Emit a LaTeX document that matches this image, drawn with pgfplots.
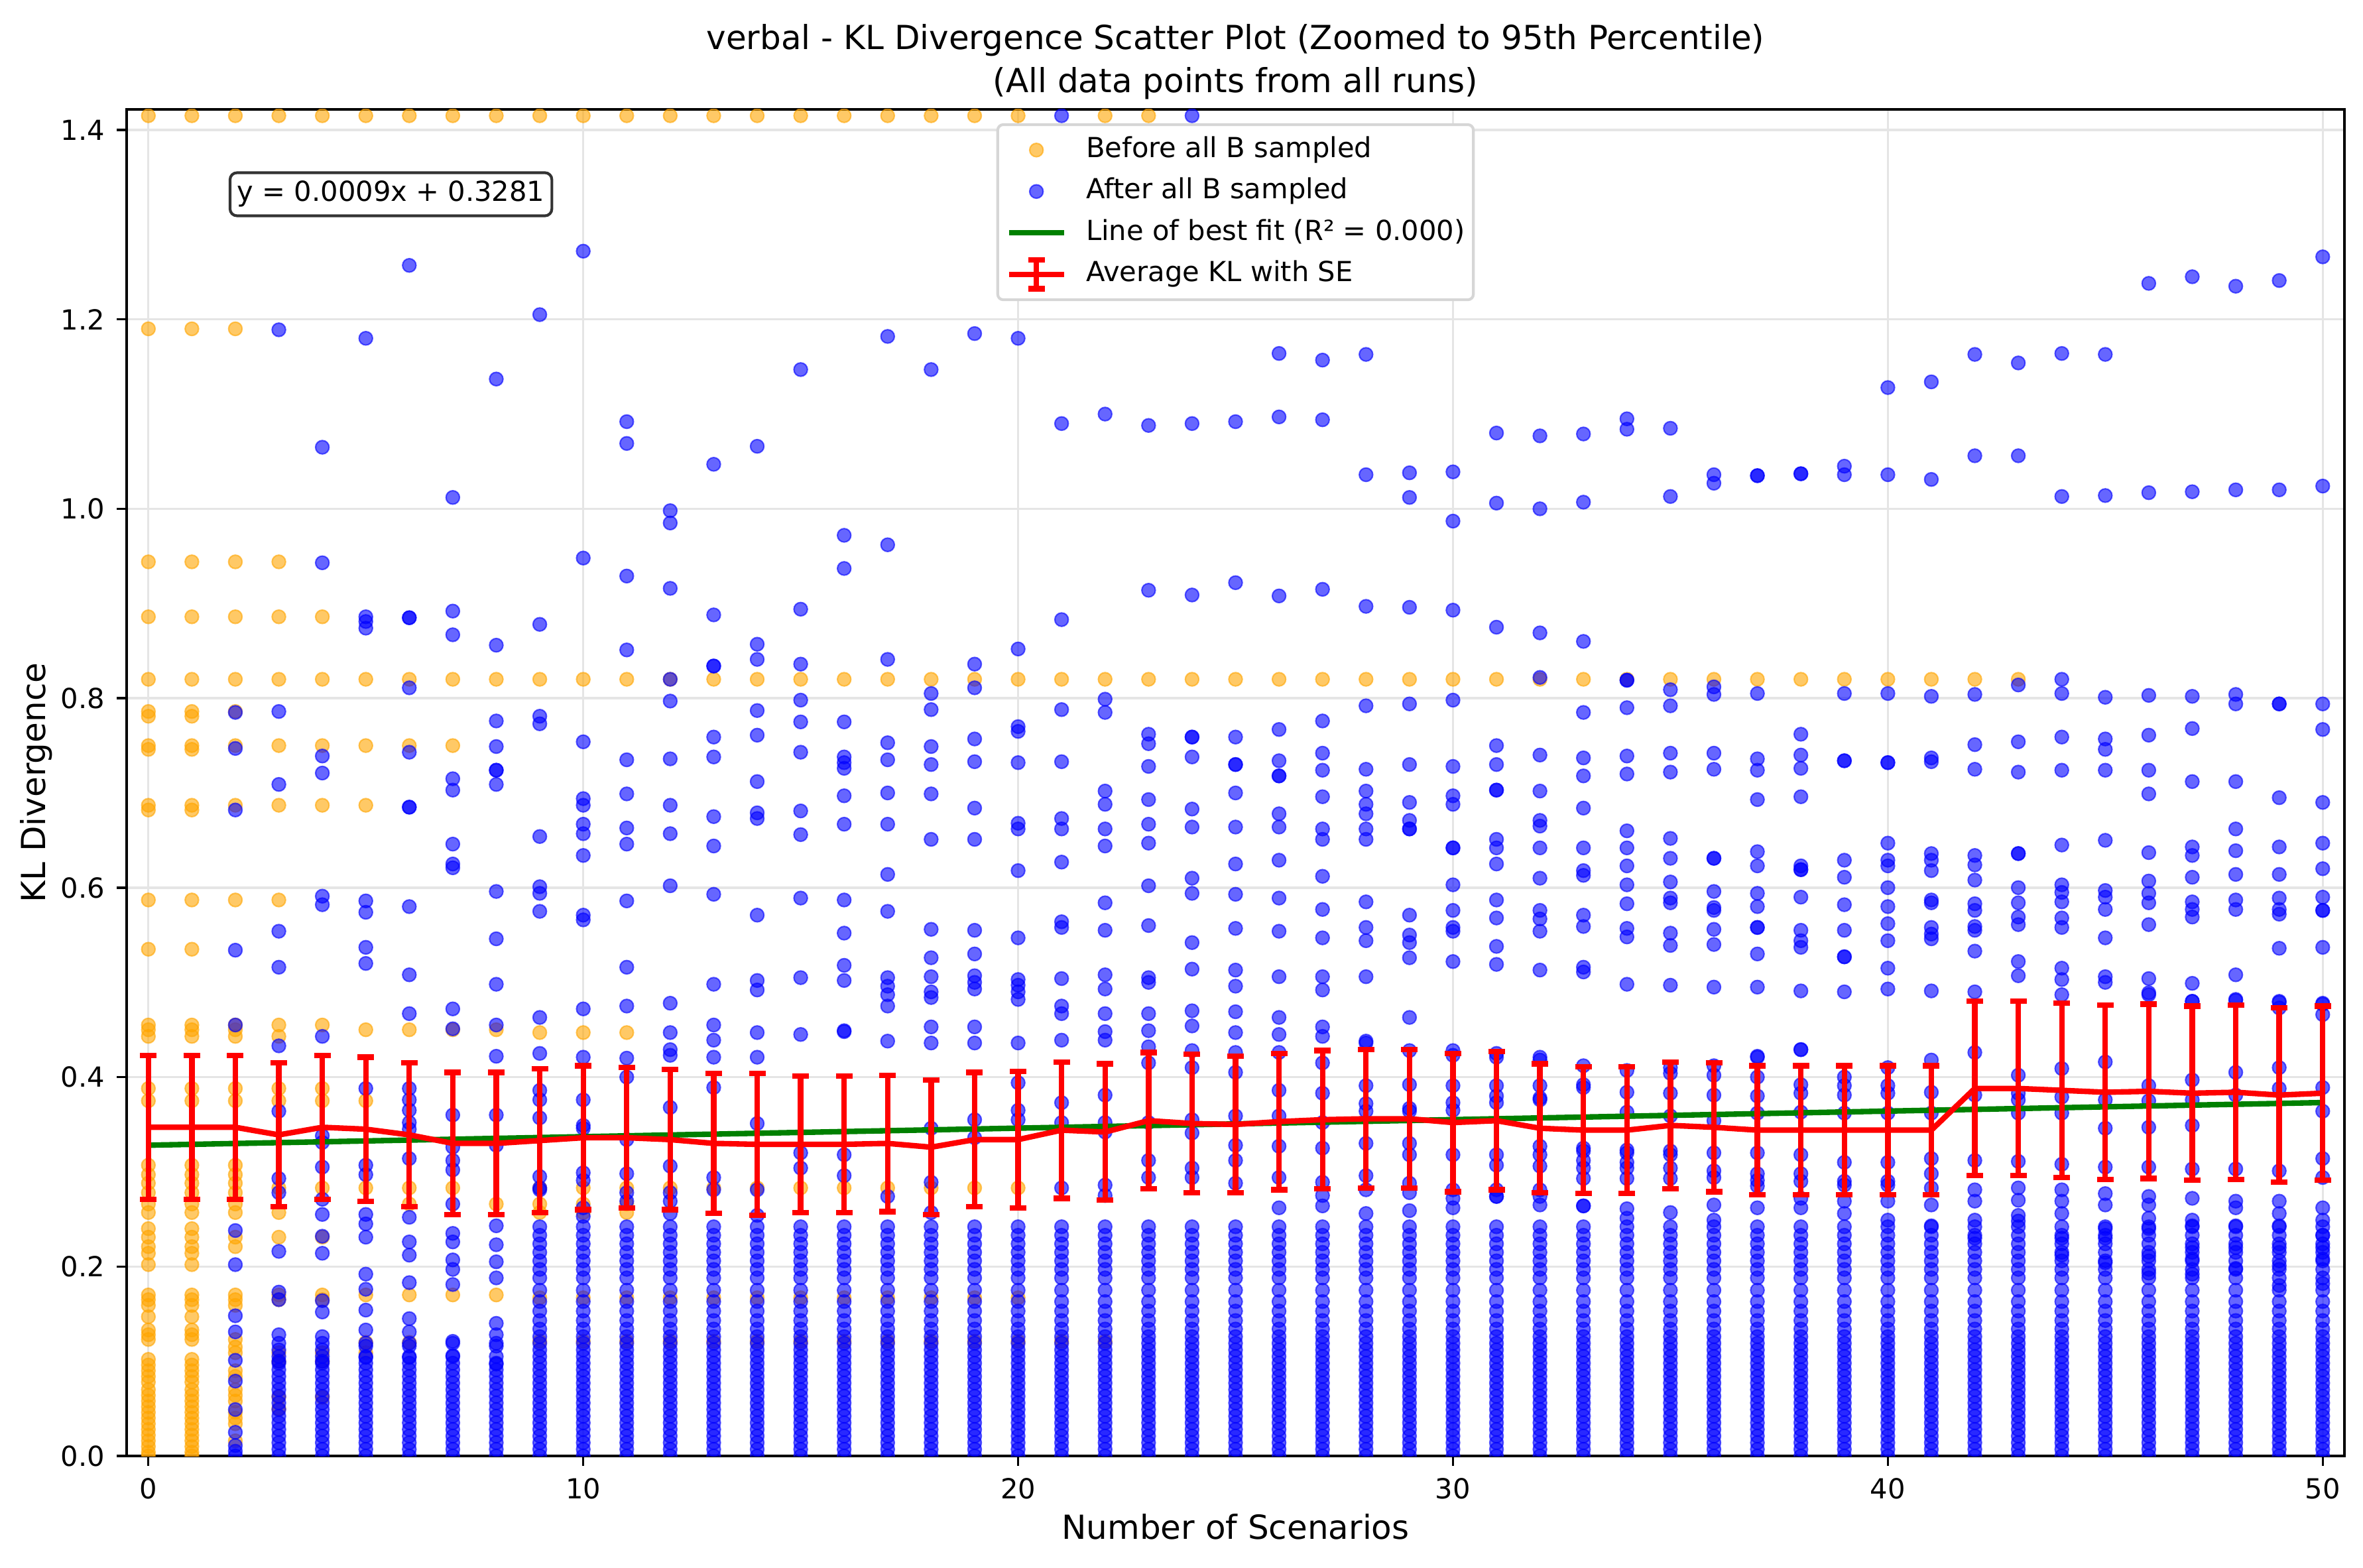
\documentclass[border=0pt]{standalone}
\usepackage{fontspec}
\setmainfont{DejaVu Sans}
\usepackage{pgfplots}
\usepackage{pgfplotstable}
\pgfplotsset{compat=1.18}
\definecolor{mplorange}{HTML}{FFA500}
\definecolor{mplblue}{HTML}{0000FF}
\definecolor{mplgreen}{HTML}{008000}
\definecolor{mplred}{HTML}{FF0000}
\pgfplotsset{
 bsc/.style={only marks, mark=*, mark size=2.45pt, mark options={fill=mplblue, draw=mplblue, opacity=0.6, line width=0.5pt}},
 osc/.style={only marks, mark=*, mark size=2.45pt, mark options={fill=mplorange, draw=mplorange, opacity=0.6, line width=0.5pt}},
}
\newcommand{\B}[2]{\addplot[bsc,forget plot] table[header=false,x expr=#1,y index=0,row sep=\\]{#2};}
\newcommand{\Or}[2]{\addplot[osc,forget plot] table[header=false,x expr=#1,y index=0,row sep=\\]{#2};}
\pgfplotstableread[header=false,row sep=\\]{0\\0.007\\0.014\\0.021\\0.028\\0.035\\0.042\\0.049\\0.056\\0.063\\0.07\\0.077\\0.084\\0.091\\0.098\\0.105\\0.112\\0.119\\0.126\\0.134\\0.143\\0.153\\0.163\\0.175\\0.188\\0.197\\0.206\\0.215\\0.224\\0.233\\0.242\\}\lowA
\pgfplotstableread[header=false,row sep=\\]{0\\0.007\\0.014\\0.021\\0.028\\0.035\\0.042\\0.049\\0.056\\0.063\\0.07\\0.077\\0.084\\0.091\\0.098\\0.105\\0.119\\}\lowB
\pgfplotstableread[header=false,row sep=\\]{1.415\\1.19\\0.944\\0.886\\0.82\\0.786\\0.781\\0.75\\0.746\\0.687\\0.682\\0.587\\0.535\\0.455\\0.45\\0.443\\0.388\\0.375\\0.307\\0.297\\0.288\\0.278\\0.266\\0.257\\0.24\\0.231\\0.221\\0.214\\0.202\\0.17\\0.165\\0.159\\0.147\\0.133\\0.128\\0.123\\0.102\\0.096\\0.09\\0.084\\0.078\\0.07\\0.064\\0.058\\0.052\\0.046\\0.04\\0.034\\0.028\\0.022\\0.016\\0.01\\0.004\\0\\}\ozero
\pgfplotstableread[header=false,row sep=\\]{1.415\\0.82\\0.447\\0.283\\0.266\\0.257\\0.167\\0.121\\}\onine
\pgfplotstableread[header=false,row sep=\\]{1.415\\0.82\\0.283\\0.167\\0.121\\}\otw
\pgfplotstableread[row sep=\\]{x m e\\
0 0.347 0.076\\1 0.347 0.076\\2 0.347 0.076\\3 0.339 0.076\\4 0.347 0.076\\5 0.345 0.076\\6 0.339 0.076\\7 0.330 0.075\\8 0.330 0.075\\9 0.333 0.076\\
10 0.336 0.076\\11 0.336 0.074\\12 0.334 0.074\\13 0.330 0.074\\14 0.329 0.075\\15 0.329 0.072\\16 0.329 0.072\\17 0.330 0.072\\18 0.326 0.071\\19 0.334 0.071\\
20 0.334 0.072\\21 0.344 0.072\\22 0.342 0.072\\23 0.354 0.072\\24 0.351 0.073\\25 0.350 0.072\\26 0.353 0.072\\27 0.355 0.073\\28 0.356 0.073\\29 0.356 0.073\\
30 0.352 0.073\\31 0.354 0.073\\32 0.346 0.068\\33 0.344 0.067\\34 0.344 0.067\\35 0.349 0.067\\36 0.347 0.068\\37 0.344 0.068\\38 0.344 0.068\\39 0.344 0.068\\
40 0.344 0.068\\41 0.344 0.068\\42 0.388 0.092\\43 0.388 0.092\\44 0.386 0.092\\45 0.384 0.092\\46 0.385 0.092\\47 0.383 0.092\\48 0.384 0.092\\49 0.381 0.092\\50 0.383 0.092\\}\avgtab
\begin{document}
\begin{tikzpicture}
\path[use as bounding box] (-45.84pt,-40.32pt) rectangle (809.52pt,527.04pt);
\begin{axis}[
 at={(0pt,0pt)}, anchor=south west, scale only axis,
 width=802.8pt, height=487.44pt,
 xmin=-0.5, xmax=50.5, ymin=0, ymax=1.4217,
 xtick={0,10,20,30,40,50},
 ytick={0,0.2,0.4,0.6,0.8,1.0,1.2,1.4},
 /pgf/number format/assume math mode=true,
 yticklabel style={/pgf/number format/fixed, /pgf/number format/fixed zerofill, /pgf/number format/precision=1, anchor=east, inner sep=0pt, xshift=-7.7pt},
 xticklabel style={anchor=north, inner sep=0pt, yshift=-7.9pt},
 tick label style={font=\fontsize{10}{12}\selectfont},
 tick align=inside, tick pos=left, major tick length=-3.5pt,
 tick style={black, line width=0.8pt},
 axis line style={line width=0.8pt},
 grid=major, major grid style={black!10, line width=0.8pt},
 clip marker paths=true,
 xlabel={Number of Scenarios},
 ylabel={KL Divergence},
 xlabel style={at={(axis description cs:0.5,0)}, anchor=base, yshift=-30.2pt, inner sep=0pt, font=\fontsize{12}{14}\selectfont},
 ylabel style={at={([xshift=-29.3pt]axis description cs:0,0.5)}, anchor=base, inner sep=0pt, font=\fontsize{12}{14}\selectfont},
 legend cell align=left,
 legend style={at={(0.5,0.9897)}, anchor=north, draw=black!16, fill=white, rounded corners=2pt, line width=1pt,
   inner xsep=3pt, inner ysep=1.7pt, font=\fontsize{10}{12}\selectfont,
   nodes={inner xsep=0pt, inner ysep=2.5pt, text height=7.6pt, text depth=2.4pt}},
]
\addlegendimage{legend image code/.code={\filldraw[mplorange, opacity=0.6, line width=0.5pt] (10pt,0pt) circle (2.45pt); \path (0pt,0pt) (27.5pt,0pt);}}
\addlegendentry{Before all B sampled}
\addlegendimage{legend image code/.code={\filldraw[mplblue, opacity=0.6, line width=0.5pt] (10pt,0pt) circle (2.45pt); \path (0pt,0pt) (27.5pt,0pt);}}
\addlegendentry{After all B sampled}
\addlegendimage{legend image code/.code={\draw[mplgreen, line width=2pt] (0pt,0pt) -- (20pt,0pt); \path (27.5pt,0pt);}}
\addlegendentry{Line of best fit (R² = 0.000)}
\addlegendimage{legend image code/.code={\draw[mplred, line width=2pt] (0pt,0pt) -- (20pt,0pt); \draw[mplred, line width=2pt] (10pt,-5.2pt) -- (10pt,5.2pt); \draw[mplred, line width=2pt] (7pt,5.2pt) -- (13pt,5.2pt) (7pt,-5.2pt) -- (13pt,-5.2pt); \path (27.5pt,0pt);}}
\addlegendentry{Average KL with SE}
% ---------- orange: before all B sampled ----------
\addplot[osc,forget plot] table[x expr=0,y index=0]{\ozero};
\addplot[osc,forget plot] table[x expr=1,y index=0]{\ozero};
\Or{2}{1.415\\1.19\\0.944\\0.886\\0.82\\0.786\\0.75\\0.687\\0.587\\0.455\\0.45\\0.443\\0.388\\0.375\\0.307\\0.297\\0.288\\0.278\\0.266\\0.257\\0.231\\0.221\\0.17\\0.165\\0.159\\0.123\\0.115\\0.109\\0.09\\0.084\\0.07\\0.064\\0.058\\0.046\\0.04\\0.034\\0.016\\}
\Or{3}{1.415\\0.944\\0.886\\0.82\\0.75\\0.687\\0.587\\0.455\\0.443\\0.388\\0.375\\0.283\\0.257\\0.231\\0.17\\0.165\\0.109\\0.1\\0.062\\0.05\\}
\Or{4}{1.415\\0.886\\0.82\\0.75\\0.687\\0.455\\0.388\\0.375\\0.283\\0.231\\0.17\\0.165\\0.109\\0.1\\0.062\\}
\Or{5}{1.415\\0.82\\0.75\\0.687\\0.45\\0.375\\0.283\\0.17\\0.12\\0.109\\}
\Or{6}{1.415\\0.82\\0.75\\0.45\\0.283\\0.266\\0.17\\0.12\\}
\Or{7}{1.415\\0.82\\0.75\\0.45\\0.283\\0.17\\}
\Or{8}{1.415\\0.82\\0.45\\0.266\\0.17\\}
\pgfplotsinvokeforeach{9,10,11}{\addplot[osc,forget plot] table[x expr=#1,y index=0]{\onine};}
\pgfplotsinvokeforeach{12,...,20}{\addplot[osc,forget plot] table[x expr=#1,y index=0]{\otw};}
\Or{21}{0.82\\0.121\\}
\Or{22}{1.415\\0.82\\0.121\\}
\Or{23}{1.415\\0.82\\}
\addplot[osc,forget plot] coordinates {(24,0.82)(25,0.82)(26,0.82)(27,0.82)(28,0.82)(29,0.82)(30,0.82)(31,0.82)(32,0.82)(33,0.82)(34,0.82)(35,0.82)(36,0.82)(37,0.82)(38,0.82)(39,0.82)(40,0.82)(41,0.82)(42,0.82)(43,0.82)};
% ---------- blue: after all B sampled ----------
\pgfplotsinvokeforeach{3,...,8}{\addplot[bsc,forget plot] table[x expr=#1,y index=0]{\lowB};}
\pgfplotsinvokeforeach{9,...,50}{\addplot[bsc,forget plot] table[x expr=#1,y index=0]{\lowA};}
\B{2}{0.785\\0.747\\0.682\\0.534\\0.455\\0.238\\0.202\\0.148\\0.131\\0.101\\0.079\\0.049\\0.025\\0.011\\0.005\\0\\}
\B{3}{1.189\\0.786\\0.709\\0.554\\0.516\\0.433\\0.364\\0.293\\0.278\\0.216\\0.173\\0.165\\0.128\\0.112\\0.1\\}
\B{4}{1.065\\0.943\\0.739\\0.721\\0.591\\0.582\\0.443\\0.338\\0.331\\0.305\\0.271\\0.255\\0.232\\0.214\\0.164\\0.152\\0.126\\0.112\\0.1\\}
\B{5}{1.18\\0.886\\0.881\\0.874\\0.586\\0.574\\0.537\\0.52\\0.388\\0.307\\0.297\\0.255\\0.245\\0.231\\0.192\\0.176\\0.154\\0.133\\0.116\\0.104\\}
\B{6}{1.257\\0.885\\0.885\\0.811\\0.743\\0.685\\0.685\\0.58\\0.508\\0.467\\0.388\\0.376\\0.365\\0.352\\0.345\\0.314\\0.252\\0.226\\0.212\\0.183\\0.145\\0.131\\0.116\\0.104\\}
\B{7}{1.012\\0.892\\0.867\\0.715\\0.703\\0.646\\0.625\\0.621\\0.472\\0.451\\0.36\\0.326\\0.312\\0.302\\0.266\\0.235\\0.226\\0.207\\0.197\\0.181\\0.121\\0.106\\}
\B{8}{1.137\\0.856\\0.776\\0.749\\0.724\\0.724\\0.709\\0.596\\0.546\\0.498\\0.455\\0.422\\0.36\\0.328\\0.243\\0.223\\0.205\\0.188\\0.14\\0.128\\0.116\\0.097\\}
\B{9}{1.205\\0.878\\0.781\\0.773\\0.654\\0.601\\0.594\\0.575\\0.463\\0.425\\0.386\\0.376\\0.357\\0.295\\0.283\\0.281\\}
\B{10}{1.272\\0.948\\0.754\\0.694\\0.687\\0.667\\0.657\\0.634\\0.571\\0.566\\0.472\\0.421\\0.376\\0.349\\0.346\\0.299\\0.291\\0.262\\0.253\\}
\B{11}{1.092\\1.069\\0.929\\0.851\\0.735\\0.699\\0.663\\0.646\\0.586\\0.516\\0.475\\0.42\\0.4\\0.334\\0.298\\0.278\\0.269\\}
\B{12}{0.998\\0.985\\0.916\\0.82\\0.797\\0.736\\0.687\\0.657\\0.602\\0.478\\0.447\\0.429\\0.423\\0.368\\0.306\\0.278\\0.269\\0.256\\}
\B{13}{1.047\\0.888\\0.834\\0.834\\0.759\\0.738\\0.675\\0.644\\0.593\\0.498\\0.455\\0.439\\0.421\\0.389\\0.294\\0.281\\}
\B{14}{1.066\\0.857\\0.841\\0.787\\0.761\\0.712\\0.679\\0.673\\0.571\\0.502\\0.492\\0.447\\0.421\\0.351\\0.281\\0.254\\}
\B{15}{1.147\\0.894\\0.836\\0.798\\0.775\\0.743\\0.681\\0.656\\0.589\\0.505\\0.445\\0.32\\0.304\\}
\B{16}{0.972\\0.937\\0.775\\0.738\\0.732\\0.726\\0.697\\0.667\\0.587\\0.552\\0.518\\0.502\\0.448\\0.449\\0.318\\0.296\\}
\B{17}{1.182\\0.962\\0.841\\0.753\\0.735\\0.7\\0.667\\0.614\\0.575\\0.505\\0.496\\0.487\\0.475\\0.438\\0.274\\}
\B{18}{1.147\\0.805\\0.788\\0.749\\0.73\\0.699\\0.651\\0.556\\0.526\\0.506\\0.49\\0.484\\0.453\\0.436\\0.346\\0.289\\0.257\\}
\B{19}{1.185\\0.836\\0.811\\0.757\\0.733\\0.684\\0.651\\0.555\\0.53\\0.507\\0.5\\0.493\\0.453\\0.436\\0.355\\0.336\\}
\B{20}{1.18\\0.852\\0.77\\0.765\\0.732\\0.668\\0.662\\0.618\\0.547\\0.503\\0.497\\0.49\\0.482\\0.436\\0.394\\0.365\\0.355\\}
\B{21}{1.415\\1.09\\0.883\\0.788\\0.733\\0.673\\0.662\\0.627\\0.564\\0.558\\0.504\\0.475\\0.467\\0.439\\0.373\\0.352\\0.283\\}
\B{22}{1.1\\0.799\\0.785\\0.702\\0.688\\0.662\\0.644\\0.584\\0.555\\0.508\\0.493\\0.467\\0.448\\0.439\\0.381\\0.352\\0.342\\0.286\\0.275\\}
\B{23}{1.088\\0.914\\0.762\\0.752\\0.728\\0.693\\0.667\\0.647\\0.602\\0.56\\0.505\\0.5\\0.467\\0.449\\0.432\\0.415\\0.352\\0.312\\0.294\\}
\B{24}{1.415\\1.09\\0.909\\0.759\\0.759\\0.738\\0.683\\0.664\\0.61\\0.594\\0.542\\0.514\\0.47\\0.454\\0.428\\0.41\\0.355\\0.341\\0.304\\0.294\\}
\B{25}{1.092\\0.922\\0.759\\0.73\\0.73\\0.7\\0.664\\0.625\\0.593\\0.557\\0.513\\0.496\\0.469\\0.447\\0.426\\0.405\\0.359\\0.328\\0.312\\0.288\\}
\B{26}{1.164\\1.097\\0.908\\0.767\\0.734\\0.718\\0.718\\0.678\\0.664\\0.629\\0.589\\0.554\\0.506\\0.463\\0.445\\0.426\\0.386\\0.359\\0.327\\0.294\\0.262\\}
\B{27}{1.157\\1.094\\0.915\\0.776\\0.742\\0.724\\0.696\\0.662\\0.651\\0.612\\0.577\\0.547\\0.506\\0.492\\0.453\\0.443\\0.415\\0.383\\0.352\\0.325\\0.289\\0.275\\0.264\\}
\B{28}{1.163\\1.036\\0.897\\0.792\\0.725\\0.702\\0.688\\0.678\\0.662\\0.651\\0.585\\0.558\\0.544\\0.506\\0.438\\0.436\\0.391\\0.372\\0.364\\0.33\\0.296\\0.281\\0.256\\}
\B{29}{1.038\\1.012\\0.896\\0.794\\0.73\\0.69\\0.671\\0.662\\0.662\\0.571\\0.55\\0.542\\0.526\\0.463\\0.428\\0.392\\0.367\\0.364\\0.33\\0.318\\0.288\\0.278\\0.259\\}
\B{30}{1.039\\0.987\\0.893\\0.798\\0.728\\0.697\\0.688\\0.642\\0.642\\0.603\\0.576\\0.558\\0.554\\0.522\\0.428\\0.423\\0.391\\0.373\\0.365\\0.318\\0.281\\0.272\\0.262\\}
\B{31}{1.08\\1.006\\0.875\\0.75\\0.73\\0.703\\0.703\\0.651\\0.642\\0.625\\0.587\\0.568\\0.538\\0.519\\0.425\\0.421\\0.391\\0.38\\0.373\\0.318\\0.307\\0.281\\0.274\\0.274\\}
\B{32}{1.077\\1.0\\0.869\\0.822\\0.74\\0.702\\0.671\\0.665\\0.642\\0.61\\0.576\\0.567\\0.554\\0.513\\0.421\\0.418\\0.391\\0.378\\0.376\\0.327\\0.318\\0.306\\0.281\\0.274\\0.265\\}
\B{33}{1.079\\1.007\\0.86\\0.785\\0.737\\0.718\\0.684\\0.642\\0.618\\0.613\\0.571\\0.559\\0.516\\0.511\\0.412\\0.392\\0.389\\0.325\\0.322\\0.312\\0.304\\0.293\\0.264\\0.264\\}
\B{34}{1.095\\1.084\\0.819\\0.819\\0.79\\0.739\\0.72\\0.66\\0.642\\0.623\\0.603\\0.583\\0.557\\0.548\\0.498\\0.407\\0.384\\0.363\\0.323\\0.32\\0.31\\0.304\\0.293\\0.261\\0.251\\}
\B{35}{1.085\\1.013\\0.809\\0.792\\0.742\\0.722\\0.652\\0.631\\0.606\\0.589\\0.584\\0.552\\0.539\\0.497\\0.41\\0.404\\0.383\\0.359\\0.322\\0.318\\0.304\\0.293\\0.257\\}
\B{36}{1.036\\1.027\\0.812\\0.804\\0.742\\0.725\\0.631\\0.631\\0.596\\0.579\\0.576\\0.556\\0.54\\0.495\\0.412\\0.402\\0.381\\0.354\\0.32\\0.301\\0.294\\0.265\\0.249\\}
\B{37}{1.035\\1.035\\0.805\\0.736\\0.724\\0.693\\0.638\\0.623\\0.594\\0.58\\0.558\\0.558\\0.53\\0.495\\0.422\\0.421\\0.4\\0.38\\0.362\\0.32\\0.298\\0.291\\0.285\\0.262\\}
\B{38}{1.037\\1.037\\0.762\\0.74\\0.726\\0.696\\0.623\\0.619\\0.619\\0.59\\0.555\\0.544\\0.537\\0.491\\0.429\\0.429\\0.392\\0.383\\0.363\\0.318\\0.298\\0.29\\0.272\\0.262\\}
\B{39}{1.045\\1.036\\0.805\\0.734\\0.734\\0.629\\0.611\\0.582\\0.555\\0.527\\0.527\\0.49\\0.4\\0.391\\0.381\\0.362\\0.31\\0.29\\0.286\\0.269\\0.256\\}
\B{40}{1.128\\1.036\\0.805\\0.732\\0.732\\0.647\\0.629\\0.623\\0.6\\0.58\\0.562\\0.544\\0.515\\0.493\\0.41\\0.391\\0.383\\0.362\\0.31\\0.29\\0.286\\0.269\\0.249\\}
\B{41}{1.134\\1.031\\0.802\\0.737\\0.733\\0.636\\0.629\\0.618\\0.587\\0.584\\0.558\\0.551\\0.546\\0.491\\0.418\\0.384\\0.362\\0.314\\0.298\\0.283\\0.265\\0.243\\}
\B{42}{1.163\\1.056\\0.804\\0.751\\0.725\\0.634\\0.624\\0.608\\0.583\\0.576\\0.559\\0.555\\0.533\\0.49\\0.426\\0.381\\0.312\\0.281\\0.269\\0.249\\0.23\\}
\B{43}{1.154\\1.056\\0.814\\0.754\\0.722\\0.636\\0.636\\0.6\\0.584\\0.569\\0.561\\0.522\\0.507\\0.402\\0.383\\0.376\\0.362\\0.311\\0.283\\0.27\\0.254\\0.248\\}
\B{44}{1.164\\1.013\\0.82\\0.805\\0.759\\0.724\\0.645\\0.603\\0.595\\0.585\\0.568\\0.558\\0.515\\0.503\\0.487\\0.409\\0.379\\0.362\\0.308\\0.281\\0.269\\0.256\\0.23\\0.212\\}
\B{45}{1.163\\1.014\\0.801\\0.757\\0.746\\0.724\\0.65\\0.597\\0.59\\0.577\\0.547\\0.506\\0.5\\0.416\\0.376\\0.346\\0.305\\0.277\\0.265\\0.24\\0.23\\0.204\\}
\B{46}{1.238\\1.017\\0.803\\0.761\\0.724\\0.699\\0.637\\0.607\\0.594\\0.584\\0.561\\0.504\\0.489\\0.487\\0.391\\0.375\\0.347\\0.305\\0.274\\0.265\\0.251\\0.24\\0.211\\0.193\\}
\B{47}{1.245\\1.018\\0.802\\0.768\\0.712\\0.643\\0.634\\0.611\\0.585\\0.577\\0.569\\0.499\\0.48\\0.48\\0.397\\0.376\\0.349\\0.303\\0.272\\0.249\\0.243\\0.22\\0.208\\0.192\\}
\B{48}{1.235\\1.02\\0.804\\0.794\\0.712\\0.662\\0.639\\0.614\\0.587\\0.577\\0.508\\0.482\\0.481\\0.405\\0.381\\0.303\\0.269\\0.262\\0.243\\0.22\\0.198\\}
\B{49}{1.241\\1.02\\0.794\\0.794\\0.695\\0.643\\0.614\\0.589\\0.577\\0.572\\0.536\\0.48\\0.479\\0.473\\0.41\\0.388\\0.301\\0.269\\0.256\\0.243\\0.22\\0.201\\0.18\\}
\B{50}{1.266\\1.024\\0.794\\0.767\\0.69\\0.647\\0.62\\0.59\\0.576\\0.576\\0.537\\0.477\\0.466\\0.478\\0.389\\0.364\\0.314\\0.294\\0.262\\0.249\\0.233\\0.22\\0.208\\0.182\\}
% ---------- fit line ----------
\addplot[mplgreen, line width=2pt, forget plot] coordinates {(0,0.3281) (50,0.3731)};
% ---------- average with SE ----------
\addplot[mplred, line width=2pt, mark=none, forget plot,
  error bars/.cd, y dir=both, y explicit,
  error bar style={line width=2pt, mplred},
  error mark options={rotate=90, mplred, line width=2pt, mark size=3pt}]
  table[x=x, y=m, y error=e]{\avgtab};
\node[draw=black!80, fill=white, rounded corners=2.5pt, line width=1pt, inner xsep=2.6pt, inner ysep=3.1pt,
  text height=7.3pt, text depth=2.1pt, anchor=north west, font=\fontsize{10}{12}\selectfont]
  at (axis description cs:0.046,0.954) {y = 0.0009x + 0.3281};
\end{axis}
\node[anchor=base, inner sep=0pt, font=\fontsize{12}{14}\selectfont] at ([yshift=21.6pt]current axis.north) {verbal - KL Divergence Scatter Plot (Zoomed to 95th Percentile)};
\node[anchor=base, inner sep=0pt, font=\fontsize{12}{14}\selectfont] at ([yshift=6pt]current axis.north) {(All data points from all runs)};
\end{tikzpicture}
\end{document}
